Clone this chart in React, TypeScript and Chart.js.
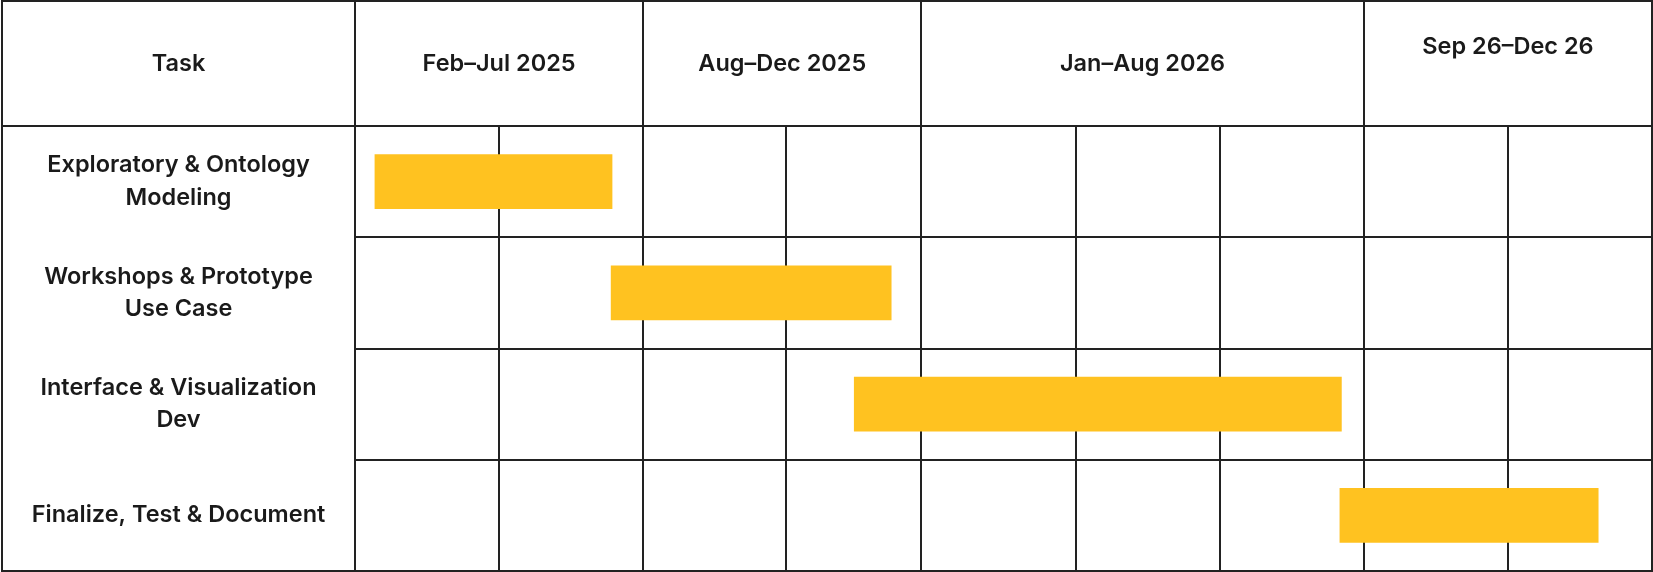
import React, { useEffect, useRef } from "react";
import { Chart, registerables } from "chart.js";

Chart.register(...registerables);

// ---- data ----
const tasks: string[][] = [
  ["Exploratory & Ontology", "Modeling"],
  ["Workshops & Prototype", "Use Case"],
  ["Interface & Visualization", "Dev"],
  ["Finalize, Test & Document"],
];
// bar spans on the timeline, in sub-column units (0 = first sub-column edge)
const taskStart: number[] = [0.136, 1.775, 3.462, 6.832];
const taskEnd: number[] = [1.786, 3.723, 6.847, 8.629];

const periodLabels: string[] = ["Feb–Jul 2025", "Aug–Dec 2025", "Jan–Aug 2026", "Sep 26–Dec 26"];
// period boundaries on the timeline (sub-column units)
const periodEdges: number[] = [0, 2, 3.93, 7, 9];
// sub-column edges (grid lines)
const subColumnEdges: number[] = [0, 1, 2, 2.99, 3.93, 5, 6, 7, 8, 9];
const headerTitle = "Task";

const LINE = "#222222";
const BAR = "#FFC220";
const TEXT = "#1a1a1a";
const FONT = "Inter";

const tablePlugin = {
  id: "tablePlugin",
  afterDraw(chart: any) {
    const { ctx, chartArea, scales } = chart;
    const x = scales.x;
    const y = scales.y;
    const left = 2;
    const top = 1;
    const headerBottom = chartArea.top;
    ctx.save();
    ctx.strokeStyle = LINE;
    ctx.lineWidth = 2;
    // outer border
    ctx.beginPath();
    ctx.moveTo(left, top);
    ctx.lineTo(chartArea.right, top);
    ctx.lineTo(chartArea.right, chartArea.bottom);
    ctx.lineTo(left, chartArea.bottom);
    ctx.closePath();
    ctx.stroke();
    // header separators
    ctx.beginPath();
    ctx.moveTo(left, headerBottom);
    ctx.lineTo(chartArea.right, headerBottom);
    periodEdges.forEach((v) => {
      const px = Math.round(x.getPixelForValue(v));
      ctx.moveTo(px, top);
      ctx.lineTo(px, headerBottom);
    });
    ctx.stroke();

    // header texts
    ctx.fillStyle = TEXT;
    ctx.font = `600 23.5px ${FONT}`;
    ctx.textAlign = "center";
    ctx.textBaseline = "middle";
    const headerMid = (top + headerBottom) / 2;
    ctx.fillText(headerTitle, (left + chartArea.left) / 2, headerMid);
    periodLabels.forEach((lab, i) => {
      const cx = (x.getPixelForValue(periodEdges[i]) + x.getPixelForValue(periodEdges[i + 1])) / 2;
      const cy = i === periodLabels.length - 1 ? headerMid - 17 : headerMid;
      ctx.fillText(lab, cx, cy);
    });

    // row labels
    const lineH = 32.5;
    tasks.forEach((lines, i) => {
      const cy = y.getPixelForValue(i);
      const startY = cy - ((lines.length - 1) * lineH) / 2;
      lines.forEach((ln, j) => {
        ctx.fillText(ln, (left + chartArea.left) / 2, startY + j * lineH);
      });
    });
    ctx.restore();
  },
};

export default function App() {
  const ref = useRef<HTMLCanvasElement | null>(null);
  useEffect(() => {
    document.body.style.margin = "0";
    const canvas = ref.current;
    if (!canvas) return;
    const chart = new Chart(canvas, {
      type: "bar",
      data: {
        labels: tasks.map((t) => t.join(" ")),
        datasets: [
          {
            data: taskStart.map((s, i) => [s, taskEnd[i]]) as any,
            backgroundColor: BAR,
            borderWidth: 0,
            borderSkipped: false,
            categoryPercentage: 1,
            barPercentage: 0.49,
          },
        ],
      },
      options: {
        indexAxis: "y",
        animation: false,
        responsive: false,
        maintainAspectRatio: false,
        events: [],
        layout: { padding: { left: 355, top: 126, right: 1, bottom: 1 } },
        plugins: { legend: { display: false }, tooltip: { enabled: false }, title: { display: false } },
        scales: {
          x: {
            type: "linear",
            min: 0,
            max: 9,
            afterBuildTicks: (scale: any) => {
              scale.ticks = subColumnEdges.map((v) => ({ value: v }));
            },
            ticks: { display: false },
            grid: { color: LINE, lineWidth: 2, drawTicks: false },
            border: { display: false },
          },
          y: {
            type: "category",
            offset: true,
            ticks: { display: false },
            grid: { color: LINE, lineWidth: 2, drawTicks: false, offset: true },
            border: { display: false },
          },
        },
      },
      plugins: [tablePlugin],
    });
    return () => chart.destroy();
  }, []);
  return (
    <div style={{ position: "fixed", left: 0, top: 0, width: 1653, height: 572, background: "#fff" }}>
      <canvas ref={ref} width={1653} height={572} style={{ display: "block", width: 1653, height: 572 }} />
    </div>
  );
}
